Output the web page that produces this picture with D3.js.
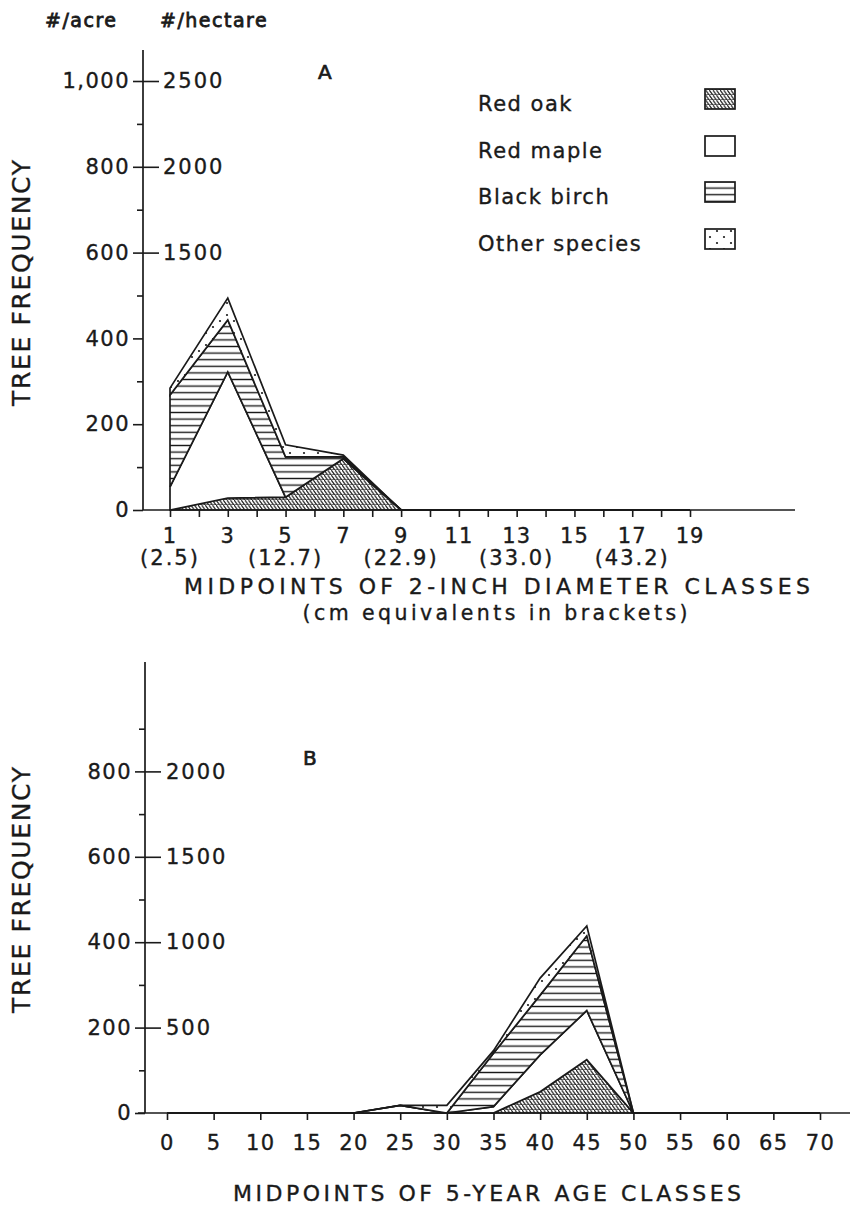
<!DOCTYPE html>
<html>
<head>
<meta charset="utf-8">
<script src="https://cdn.jsdelivr.net/npm/d3@7/dist/d3.min.js"></script>
<style>
  html, body { margin: 0; padding: 0; background: #fff; }
  svg { display: block; }
  text { font-family: "DejaVu Sans", "Liberation Sans", sans-serif; fill: #1a1a1a; stroke: #1a1a1a; stroke-width: 0.35px; }
</style>
</head>
<body>
<svg id="fig" width="863" height="1210"></svg>
<script>
// ---- Stand structure data (trees per acre) ----
const speciesKeys = ["oak", "maple", "birch", "other"];
const speciesNames = ["Red oak", "Red maple", "Black birch", "Other species"];

// A: 2-inch diameter classes (midpoints, inches)
const diamClasses = [1, 3, 5, 7, 9, 11, 13, 15, 17, 19];
const diamOak     = [0,   28,  30, 120, 0, 0, 0, 0, 0, 0];
const diamMaple   = [54, 294,   0,   0, 0, 0, 0, 0, 0, 0];
const diamBirch   = [214, 121, 94,   4, 0, 0, 0, 0, 0, 0];
const diamOther   = [16,  51,  28,   4, 0, 0, 0, 0, 0, 0];
const diamTickLabels = [1, 3, 5, 7, 9, 11, 13, 15, 17, 19];
const cmLabels = [[1, "(2.5)"], [5, "(12.7)"], [9, "(22.9)"], [13, "(33.0)"], [17, "(43.2)"]];

// B: 5-year age classes (midpoints, years)
const ageClasses = [0, 5, 10, 15, 20, 25, 30, 35, 40, 45, 50, 55, 60, 65, 70];
const ageOak     = [0, 0, 0, 0, 0,  0,  0,   0,  50, 125, 0, 0, 0, 0, 0];
const ageMaple   = [0, 0, 0, 0, 0, 18,  0,  15,  86, 115, 0, 0, 0, 0, 0];
const ageBirch   = [0, 0, 0, 0, 0,  0,  0, 125, 140, 175, 0, 0, 0, 0, 0];
const ageOther   = [0, 0, 0, 0, 0,  0, 18,   6,  40,  23, 0, 0, 0, 0, 0];

const acreTicksA = [0, 200, 400, 600, 800, 1000];
const hectareTicksA = [1500, 2000, 2500];
const acreTicksB = [0, 200, 400, 600, 800];
const hectareTicksB = [500, 1000, 1500, 2000];

const ink = "#1a1a1a";
const svg = d3.select("#fig");

// ---- fill patterns ----
const defs = svg.append("defs");
const pOak = defs.append("pattern").attr("id", "pat-oak")
  .attr("patternUnits", "userSpaceOnUse").attr("width", 3.6).attr("height", 5);
pOak.append("rect").attr("width", 3.6).attr("height", 5).attr("fill", "#fff");
pOak.append("path").attr("d", "M0,0 L3.6,5").attr("stroke", ink).attr("stroke-width", 1.2);
pOak.append("path").attr("d", "M0,4.6 L3.6,4.6").attr("stroke", ink).attr("stroke-width", 0.6);

const pBirch = defs.append("pattern").attr("id", "pat-birch")
  .attr("patternUnits", "userSpaceOnUse").attr("width", 10).attr("height", 6.6);
pBirch.append("rect").attr("width", 10).attr("height", 6.6).attr("fill", "#fff");
pBirch.append("path").attr("d", "M0,3.3 L10,3.3").attr("stroke", ink).attr("stroke-width", 1.4);

const pOther = defs.append("pattern").attr("id", "pat-other")
  .attr("patternUnits", "userSpaceOnUse").attr("width", 14).attr("height", 12);
pOther.append("rect").attr("width", 14).attr("height", 12).attr("fill", "#fff");
pOther.append("circle").attr("cx", 3).attr("cy", 3).attr("r", 1.1).attr("fill", ink);
pOther.append("circle").attr("cx", 10).attr("cy", 9).attr("r", 1.1).attr("fill", ink);

const fills = { oak: "url(#pat-oak)", maple: "#fff", birch: "url(#pat-birch)", other: "url(#pat-other)" };

function stacked(xs, oak, maple, birch, other) {
  const rows = xs.map((x, i) => ({ x, oak: oak[i], maple: maple[i], birch: birch[i], other: other[i] }));
  return d3.stack().keys(speciesKeys)(rows);
}

function drawLayers(g, layers, x, y) {
  const area = d3.area().x(d => x(d.data.x)).y0(d => y(d[0])).y1(d => y(d[1]));
  g.selectAll("path.layer").data(layers).join("path")
    .attr("class", "layer")
    .attr("d", area)
    .attr("fill", d => fills[d.key])
    .attr("stroke", ink).attr("stroke-width", 1.7).attr("stroke-linejoin", "miter");
}

function styleAxis(g) {
  g.selectAll("line").attr("stroke", ink).attr("stroke-width", 1.6);
  g.select(".domain").remove();
  g.selectAll("text").attr("fill", ink).style("font-family", "DejaVu Sans, sans-serif");
}

// ================= Panel A =================
const xA = d3.scaleLinear().domain([1, 19]).range([170, 690]);
const yA = d3.scaleLinear().domain([0, 1000]).range([510, 81]);
const yAha = d3.scaleLinear().domain([0, 2500]).range([510, 81]);
const axA = 143;

const gA = svg.append("g");
drawLayers(gA, stacked(diamClasses, diamOak, diamMaple, diamBirch, diamOther), xA, yA);

gA.append("line").attr("x1", axA).attr("x2", axA).attr("y1", 50).attr("y2", 510)
  .attr("stroke", ink).attr("stroke-width", 1.7);
gA.append("line").attr("x1", axA).attr("x2", 795).attr("y1", 510).attr("y2", 510)
  .attr("stroke", ink).attr("stroke-width", 1.7);

gA.append("g").attr("transform", `translate(${axA},0)`)
  .call(d3.axisLeft(yA).tickValues(d3.range(100, 1000, 200)).tickSize(6).tickFormat(""))
  .call(styleAxis);
gA.append("g").attr("transform", `translate(${axA},0)`)
  .call(d3.axisLeft(yA).tickValues(acreTicksA).tickSize(10).tickPadding(3)
    .tickFormat(d => d === 1000 ? "1,000" : d3.format("d")(d)))
  .call(styleAxis)
  .selectAll("text").style("font-size", "21px").style("letter-spacing", "1.5px");
gA.append("g").attr("transform", `translate(${axA},0)`)
  .call(d3.axisRight(yAha).tickValues(hectareTicksA).tickSize(16).tickPadding(4)
    .tickFormat(d3.format("d")))
  .call(styleAxis)
  .selectAll("text").style("font-size", "21px").style("letter-spacing", "2px");

gA.append("g").attr("transform", "translate(0,510)")
  .call(d3.axisBottom(xA).tickValues(d3.range(1, 20, 1)).tickSize(7).tickFormat(""))
  .call(styleAxis);
gA.append("g").selectAll("text.xl").data(diamTickLabels).join("text")
  .attr("x", d => xA(d)).attr("y", 543).attr("text-anchor", "middle")
  .style("font-size", "21px").style("letter-spacing", "1px").text(d => d);
gA.append("g").selectAll("text.cm").data(cmLabels).join("text")
  .attr("x", d => xA(d[0])).attr("y", 565).attr("text-anchor", "middle")
  .style("font-size", "21px").style("letter-spacing", "2px").text(d => d[1]);

gA.append("text").attr("x", 497).attr("y", 594).attr("text-anchor", "middle")
  .attr("textLength", 626).attr("lengthAdjust", "spacing")
  .style("font-size", "22px").text("MIDPOINTS OF 2-INCH DIAMETER CLASSES");
gA.append("text").attr("x", 495).attr("y", 620).attr("text-anchor", "middle")
  .attr("textLength", 385).attr("lengthAdjust", "spacing")
  .style("font-size", "20.5px").text("(cm equivalents in brackets)");

// unit headers and panel letter
svg.append("text").attr("x", 45).attr("y", 27).style("font-size", "19px").style("letter-spacing", "1.5px")
  .style("stroke-width", "0.8px").text("#/acre");
svg.append("text").attr("x", 160).attr("y", 27).style("font-size", "19px").style("letter-spacing", "1.5px")
  .style("stroke-width", "0.8px").text("#/hectare");
svg.append("text").attr("x", 318).attr("y", 79).style("font-size", "20px").style("stroke-width", "0.7px").text("A");

svg.append("text").attr("transform", "translate(30,283) rotate(-90)").attr("text-anchor", "middle")
  .attr("textLength", 246).attr("lengthAdjust", "spacing")
  .style("font-size", "25px").text("TREE FREQUENCY");

// legend
const legend = svg.append("g");
speciesKeys.forEach((k, i) => {
  const ys = [99, 146, 192, 239][i];
  legend.append("text").attr("x", 478).attr("y", ys + 12)
    .style("font-size", "21px").style("letter-spacing", "1.5px").text(speciesNames[i]);
  legend.append("rect").attr("x", 705).attr("y", ys - 10).attr("width", 30).attr("height", 20)
    .attr("fill", fills[k]).attr("stroke", ink).attr("stroke-width", 1.7);
});

// ================= Panel B =================
const xB = d3.scaleLinear().domain([0, 70]).range([167, 820]);
const yB = d3.scaleLinear().domain([0, 1000]).range([1113, 686]);
const yBha = d3.scaleLinear().domain([0, 2500]).range([1113, 686]);
const axB = 145;

const gB = svg.append("g");
drawLayers(gB, stacked(ageClasses, ageOak, ageMaple, ageBirch, ageOther), xB, yB);

gB.append("line").attr("x1", axB).attr("x2", axB).attr("y1", 662).attr("y2", 1113)
  .attr("stroke", ink).attr("stroke-width", 1.7);
gB.append("line").attr("x1", 138).attr("x2", 850).attr("y1", 1113).attr("y2", 1113)
  .attr("stroke", ink).attr("stroke-width", 1.7);

gB.append("g").attr("transform", `translate(${axB},0)`)
  .call(d3.axisLeft(yB).tickValues(d3.range(100, 1000, 200)).tickSize(6).tickFormat(""))
  .call(styleAxis);
gB.append("g").attr("transform", `translate(${axB},0)`)
  .call(d3.axisLeft(yB).tickValues(acreTicksB).tickSize(10).tickPadding(3).tickFormat(d3.format("d")))
  .call(styleAxis)
  .selectAll("text").style("font-size", "21px").style("letter-spacing", "1.5px");
gB.append("g").attr("transform", `translate(${axB},0)`)
  .call(d3.axisRight(yBha).tickValues(hectareTicksB).tickSize(16).tickPadding(5).tickFormat(d3.format("d")))
  .call(styleAxis)
  .selectAll("text").style("font-size", "21px").style("letter-spacing", "2px");

gB.append("g").attr("transform", "translate(0,1113)")
  .call(d3.axisBottom(xB).tickValues(d3.range(0, 71, 5)).tickSize(7).tickPadding(15).tickFormat(d3.format("d")))
  .call(styleAxis)
  .selectAll("text").style("font-size", "21px").style("letter-spacing", "1.5px");

gB.append("text").attr("x", 487).attr("y", 1201).attr("text-anchor", "middle")
  .attr("textLength", 508).attr("lengthAdjust", "spacing")
  .style("font-size", "22px").text("MIDPOINTS OF 5-YEAR AGE CLASSES");

svg.append("text").attr("x", 303).attr("y", 765).style("font-size", "20px").style("stroke-width", "0.7px").text("B");
svg.append("text").attr("transform", "translate(30,890) rotate(-90)").attr("text-anchor", "middle")
  .attr("textLength", 246).attr("lengthAdjust", "spacing")
  .style("font-size", "25px").text("TREE FREQUENCY");
</script>
</body>
</html>
